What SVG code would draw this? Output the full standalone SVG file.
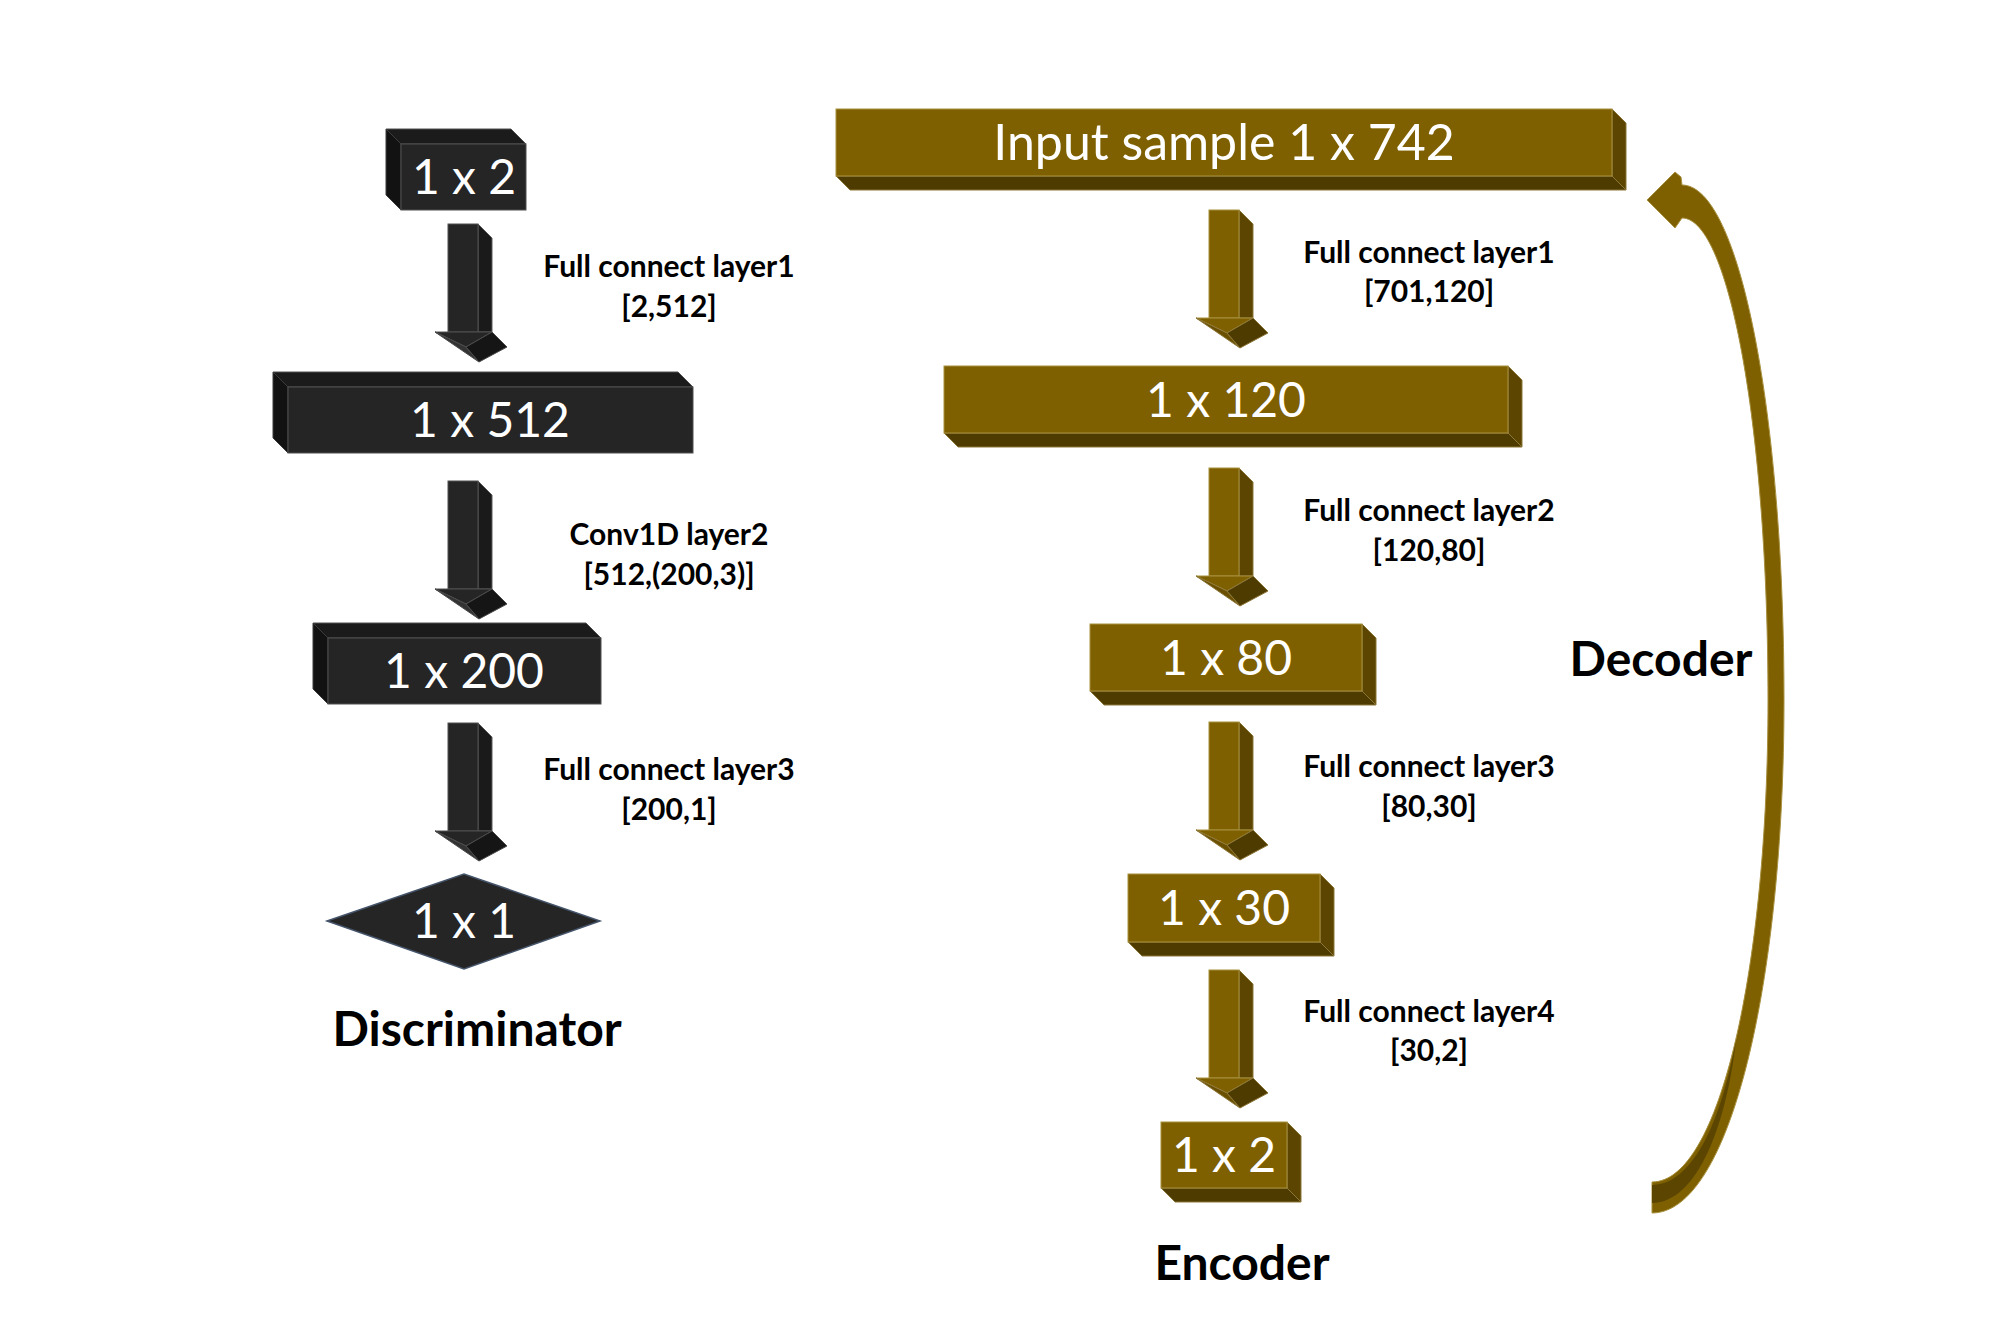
<svg xmlns="http://www.w3.org/2000/svg" width="2000" height="1338" viewBox="0 0 2000 1338">
<style>
.kF{fill:#252525;stroke:#505050;stroke-width:1}
.kT{fill:#1b1b1b;stroke:#505050;stroke-width:1}
.kL{fill:#121212;stroke:#3c3c3c;stroke-width:1}
.kS{fill:#1a1a1a;stroke:#5a5a5a;stroke-width:1}
.kM{fill:#333333;stroke:#4a4a4a;stroke-width:1}
.kD{fill:#151515;stroke:#4a4a4a;stroke-width:1}
.gF{fill:#7f6000;stroke:#a8903f;stroke-width:1}
.gS{fill:#5b4500;stroke:#8c7638;stroke-width:1}
.gB{fill:#4e3b00;stroke:#8c7638;stroke-width:1}
.gM{fill:#6a5000;stroke:#8c7638;stroke-width:1}
.box{font-family:Lato,"Open Sans",sans-serif;font-size:48px;fill:#ffffff;text-anchor:middle}
.lbl{font-family:Lato,"Open Sans",sans-serif;font-weight:700;font-size:30px;fill:#000000;text-anchor:middle}
.ttl{font-family:Lato,"Open Sans",sans-serif;font-weight:700;font-size:48px;fill:#000000;text-anchor:middle}
</style>
<defs>
<g id="arrK">
<path class="kS" d="M30,0 L44,14 L44,108 L30,108 Z"/>
<rect class="kF" x="0" y="0" width="30" height="108"/>
<path class="kF" d="M-13,108 L44,108 L18,123 Z"/>
<path class="kM" d="M-13,108 L18,123 L31,138 Z"/>
<path class="kD" d="M18,123 L44,108 L59,123 L31,138 Z"/>
</g>
<g id="arrG">
<path class="gS" d="M30,0 L44,14 L44,108 L30,108 Z"/>
<rect class="gF" x="0" y="0" width="30" height="108"/>
<path class="gF" d="M-13,108 L44,108 L18,123 Z"/>
<path class="gM" d="M-13,108 L18,123 L31,138 Z"/>
<path class="gB" d="M18,123 L44,108 L59,123 L31,138 Z"/>
</g>
</defs>
<rect x="0" y="0" width="2000" height="1338" fill="#ffffff"/>

<g id="connectors">
<use href="#arrK" transform="translate(448,224)"/>
<use href="#arrK" transform="translate(448,481)"/>
<use href="#arrK" transform="translate(448,723)"/>
<use href="#arrG" transform="translate(1209,210)"/>
<use href="#arrG" transform="translate(1209,468)"/>
<use href="#arrG" transform="translate(1209,722)"/>
<use href="#arrG" transform="translate(1209,970)"/>
<g id="decoder-arrow">
<path d="M1647,200 L1675,172 L1681,177 L1682,185 C1740,185 1784,416 1784,700 C1784,983 1730,1213 1652,1213 L1652,1182 C1720,1182 1768,966 1768,700 C1768,434 1730,218 1682,218 L1675,228 Z" fill="#7f6000" stroke="#a8903f" stroke-width="1"/>
<path d="M1652,1185 C1690,1185 1720,1128 1736,1040 C1727,1122 1698,1203 1652,1203 Z" fill="#5b4500"/>
</g>
</g>

<g id="labels">
<text class="lbl" x="669" y="277">Full connect layer1</text>
<text class="lbl" x="669" y="317">[2,512]</text>
<text class="lbl" x="669" y="545">Conv1D layer2</text>
<text class="lbl" x="669" y="585">[512,(200,3)]</text>
<text class="lbl" x="669" y="780">Full connect layer3</text>
<text class="lbl" x="669" y="820">[200,1]</text>
<text class="lbl" x="1429" y="263">Full connect layer1</text>
<text class="lbl" x="1429" y="302">[701,120]</text>
<text class="lbl" x="1429" y="521">Full connect layer2</text>
<text class="lbl" x="1429" y="561">[120,80]</text>
<text class="lbl" x="1429" y="777">Full connect layer3</text>
<text class="lbl" x="1429" y="817">[80,30]</text>
<text class="lbl" x="1429" y="1022">Full connect layer4</text>
<text class="lbl" x="1429" y="1061">[30,2]</text>
</g>

<g id="disc-1x2">
<path class="kT" d="M386,129 L511,129 L526,144 L401,144 Z"/>
<path class="kL" d="M386,129 L401,144 L401,210 L386,195 Z"/>
<rect class="kF" x="401" y="144" width="125" height="66"/>
<text class="box" x="464" y="194">1 x 2</text>
</g>
<g id="disc-1x512">
<path class="kT" d="M273,372 L678,372 L693,387 L288,387 Z"/>
<path class="kL" d="M273,372 L288,387 L288,453 L273,438 Z"/>
<rect class="kF" x="288" y="387" width="405" height="66"/>
<text class="box" x="490" y="437">1 x 512</text>
</g>
<g id="disc-1x200">
<path class="kT" d="M313,623 L586,623 L601,638 L328,638 Z"/>
<path class="kL" d="M313,623 L328,638 L328,704 L313,689 Z"/>
<rect class="kF" x="328" y="638" width="273" height="66"/>
<text class="box" x="464" y="688">1 x 200</text>
</g>
<g id="disc-1x1">
<path d="M327,921 L464,874 L600,921 L464,969 Z" fill="#252525" stroke="#44546a" stroke-width="1.5"/>
<text class="box" x="464" y="938">1 x 1</text>
</g>

<g id="enc-input">
<path class="gS" d="M1612,109 L1626,123 L1626,190 L1612,176 Z"/>
<path class="gB" d="M836,176 L1612,176 L1626,190 L850,190 Z"/>
<rect class="gF" x="836" y="109" width="776" height="67"/>
<text class="box" x="1224" y="160" style="font-size:50px">Input sample 1 x 742</text>
</g>
<g id="enc-1x120">
<path class="gS" d="M1508,366 L1522,380 L1522,447 L1508,433 Z"/>
<path class="gB" d="M944,433 L1508,433 L1522,447 L958,447 Z"/>
<rect class="gF" x="944" y="366" width="564" height="67"/>
<text class="box" x="1226" y="417">1 x 120</text>
</g>
<g id="enc-1x80">
<path class="gS" d="M1362,624 L1376,638 L1376,705 L1362,691 Z"/>
<path class="gB" d="M1090,691 L1362,691 L1376,705 L1104,705 Z"/>
<rect class="gF" x="1090" y="624" width="272" height="67"/>
<text class="box" x="1226" y="675">1 x 80</text>
</g>
<g id="enc-1x30">
<path class="gS" d="M1320,874 L1334,888 L1334,956 L1320,942 Z"/>
<path class="gB" d="M1128,942 L1320,942 L1334,956 L1142,956 Z"/>
<rect class="gF" x="1128" y="874" width="192" height="68"/>
<text class="box" x="1224" y="925">1 x 30</text>
</g>
<g id="enc-1x2">
<path class="gS" d="M1287,1122 L1301,1136 L1301,1202 L1287,1188 Z"/>
<path class="gB" d="M1161,1188 L1287,1188 L1301,1202 L1175,1202 Z"/>
<rect class="gF" x="1161" y="1122" width="126" height="66"/>
<text class="box" x="1224" y="1172">1 x 2</text>
</g>

<g id="titles">
<text class="ttl" x="477" y="1046">Discriminator</text>
<text class="ttl" x="1242" y="1280">Encoder</text>
<text class="ttl" x="1661" y="676">Decoder</text>
</g>
</svg>
